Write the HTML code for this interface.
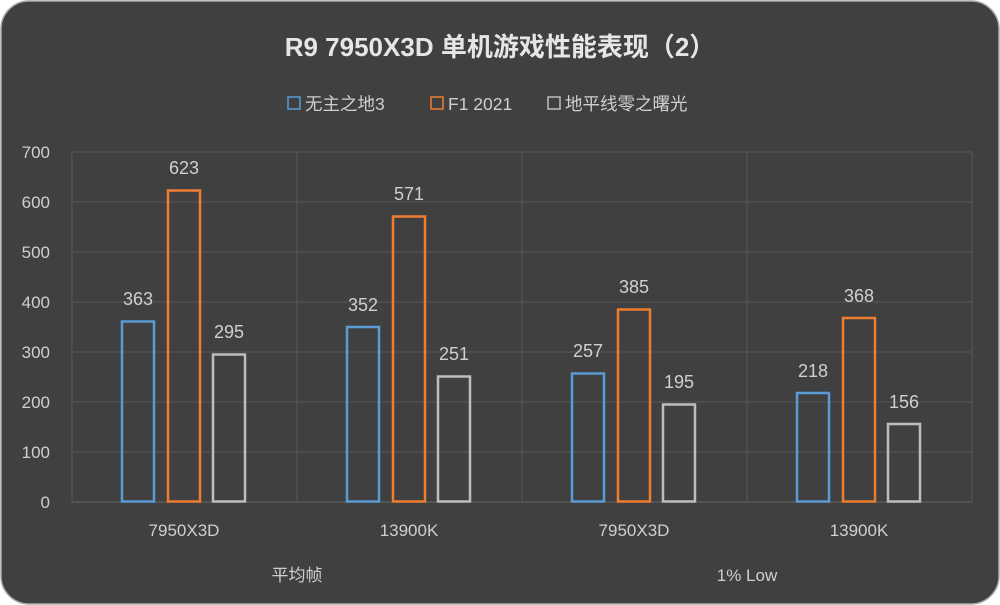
<!DOCTYPE html><html><head><style>body{margin:0;background:#fff}svg{display:block}text{font-family:"Liberation Sans","Noto Sans CJK SC",sans-serif}</style></head><body>
<svg width="1000" height="605" xmlns="http://www.w3.org/2000/svg">
<rect x="1" y="1" width="998" height="603" rx="28" fill="#404040" stroke="#aaa" stroke-width="1.5"/>
<text x="500" y="56" text-anchor="middle" font-size="26" font-weight="bold" fill="#e6e6e6">R9 7950X3D 单机游戏性能表现（2）</text>
<g font-size="17.5" fill="#cfcfcf">
<rect x="288" y="97" width="12" height="12" fill="none" stroke="#5b9bd5" stroke-width="1.5"/><text x="305" y="110">无主之地3</text>
<rect x="431" y="97" width="12" height="12" fill="none" stroke="#ed7d31" stroke-width="1.5"/><text x="448" y="110">F1 2021</text>
<rect x="548" y="97" width="12" height="12" fill="none" stroke="#bdbdbd" stroke-width="1.5"/><text x="565" y="110">地平线零之曙光</text>
</g>
<g stroke="#585858" stroke-width="1">
<line x1="72" y1="152" x2="972" y2="152"/><line x1="72" y1="202" x2="972" y2="202"/><line x1="72" y1="252" x2="972" y2="252"/><line x1="72" y1="302" x2="972" y2="302"/><line x1="72" y1="352" x2="972" y2="352"/><line x1="72" y1="402" x2="972" y2="402"/><line x1="72" y1="452" x2="972" y2="452"/>
<line x1="72" y1="152" x2="72" y2="502"/><line x1="297" y1="152" x2="297" y2="502"/><line x1="522" y1="152" x2="522" y2="502"/><line x1="747" y1="152" x2="747" y2="502"/><line x1="972" y1="152" x2="972" y2="502"/>
</g>
<line x1="72" y1="502" x2="972" y2="502" stroke="#666"/>
<g font-size="17" fill="#cfcfcf" text-anchor="end">
<text x="50" y="158">700</text><text x="50" y="208">600</text><text x="50" y="258">500</text><text x="50" y="308">400</text><text x="50" y="358">300</text><text x="50" y="408">200</text><text x="50" y="458">100</text><text x="50" y="508">0</text>
</g>
<g fill="none" stroke-width="2.5">
<rect x="122" y="321.5" width="32" height="180" stroke="#5b9bd5"/>
<rect x="168" y="190.5" width="32" height="311" stroke="#ed7d31"/>
<rect x="213" y="354.5" width="32" height="147" stroke="#bdbdbd"/>
<rect x="347" y="327" width="32" height="174.5" stroke="#5b9bd5"/>
<rect x="393" y="216.5" width="32" height="285" stroke="#ed7d31"/>
<rect x="438" y="376.5" width="32" height="125" stroke="#bdbdbd"/>
<rect x="572" y="373.5" width="32" height="128" stroke="#5b9bd5"/>
<rect x="618" y="309.5" width="32" height="192" stroke="#ed7d31"/>
<rect x="663" y="404.5" width="32" height="97" stroke="#bdbdbd"/>
<rect x="797" y="393" width="32" height="108.5" stroke="#5b9bd5"/>
<rect x="843" y="318" width="32" height="183.5" stroke="#ed7d31"/>
<rect x="888" y="424" width="32" height="77.5" stroke="#bdbdbd"/>
</g>
<g font-size="18" fill="#d0d0d0" text-anchor="middle">
<text x="138" y="305">363</text><text x="184" y="174">623</text><text x="229" y="338">295</text>
<text x="363" y="311">352</text><text x="409" y="200">571</text><text x="454" y="360">251</text>
<text x="588" y="357">257</text><text x="634" y="293">385</text><text x="679" y="388">195</text>
<text x="813" y="377">218</text><text x="859" y="302">368</text><text x="904" y="408">156</text>
</g>
<g font-size="17" fill="#cfcfcf" text-anchor="middle">
<text x="184" y="536">7950X3D</text><text x="409" y="536">13900K</text><text x="634" y="536">7950X3D</text><text x="859" y="536">13900K</text>
<text x="297" y="581">平均帧</text><text x="747" y="581">1% Low</text>
</g>
</svg>
</body></html>
